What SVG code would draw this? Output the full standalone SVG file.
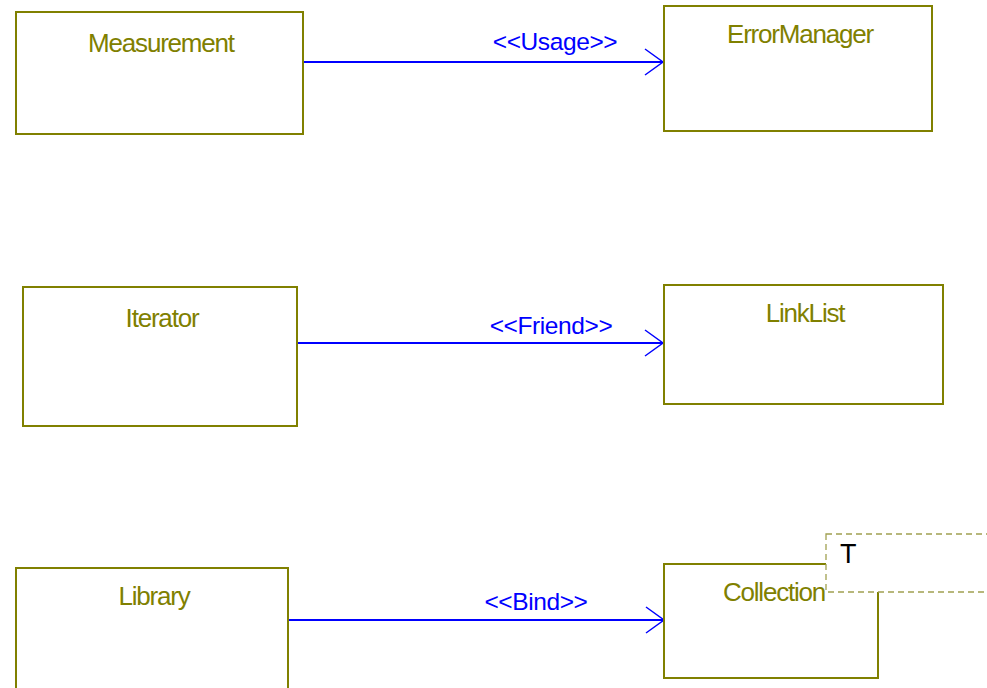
<svg xmlns="http://www.w3.org/2000/svg" width="987" height="688" viewBox="0 0 987 688">
  <style>
    .box { fill: #ffffff; stroke: #808000; stroke-width: 2; }
    .name { font-family: "Liberation Sans", Arial, sans-serif; font-size: 26px; fill: #808000; text-anchor: middle; letter-spacing: -1.2px; }
    .dep { stroke: #0000ff; stroke-width: 2; fill: none; }
    .head { stroke: #0000ff; stroke-width: 1.5; fill: none; }
    .stereo { font-family: "Liberation Sans", Arial, sans-serif; font-size: 24.5px; fill: #0000ff; text-anchor: middle; letter-spacing: -0.4px; }
    .tpl { fill: #ffffff; stroke: #a0a050; stroke-width: 1.3; stroke-dasharray: 6 4; }
    .tplname { font-family: "Liberation Sans", Arial, sans-serif; font-size: 27px; fill: #000000; }
  </style>

  <!-- dependency connectors -->
  <g id="connectors">
    <line class="dep" x1="303" y1="62" x2="664" y2="62"/>
    <polyline class="head" points="645,49 663,62 645,75"/>
    <text class="stereo" x="555" y="50">&lt;&lt;Usage&gt;&gt;</text>

    <line class="dep" x1="297" y1="343" x2="664" y2="343"/>
    <polyline class="head" points="645,330 663,343 645,356"/>
    <text class="stereo" x="551" y="334">&lt;&lt;Friend&gt;&gt;</text>

    <line class="dep" x1="288" y1="620" x2="664" y2="620"/>
    <polyline class="head" points="646,607 664,620 646,633"/>
    <text class="stereo" x="536" y="610">&lt;&lt;Bind&gt;&gt;</text>
  </g>

  <g id="measurement">
    <rect class="box" x="16" y="12" width="287" height="122"/>
    <text class="name" x="161" y="52">Measurement</text>
  </g>

  <g id="error-manager">
    <rect class="box" x="664" y="6" width="268" height="125"/>
    <text class="name" x="800" y="43">ErrorManager</text>
  </g>

  <g id="iterator">
    <rect class="box" x="23" y="287" width="274" height="139"/>
    <text class="name" x="162" y="327">Iterator</text>
  </g>

  <g id="link-list">
    <rect class="box" x="664" y="285" width="279" height="119"/>
    <text class="name" x="805" y="322">LinkList</text>
  </g>

  <g id="library">
    <rect class="box" x="16" y="568" width="272" height="130"/>
    <text class="name" x="154" y="605">Library</text>
  </g>

  <g id="collection">
    <rect class="box" x="664" y="564" width="214" height="114"/>
    <text class="name" x="774" y="601">Collection</text>
    <!-- template parameter -->
    <rect class="tpl" x="826" y="534" width="170" height="58"/>
    <text class="tplname" x="840" y="563">T</text>
  </g>
</svg>
